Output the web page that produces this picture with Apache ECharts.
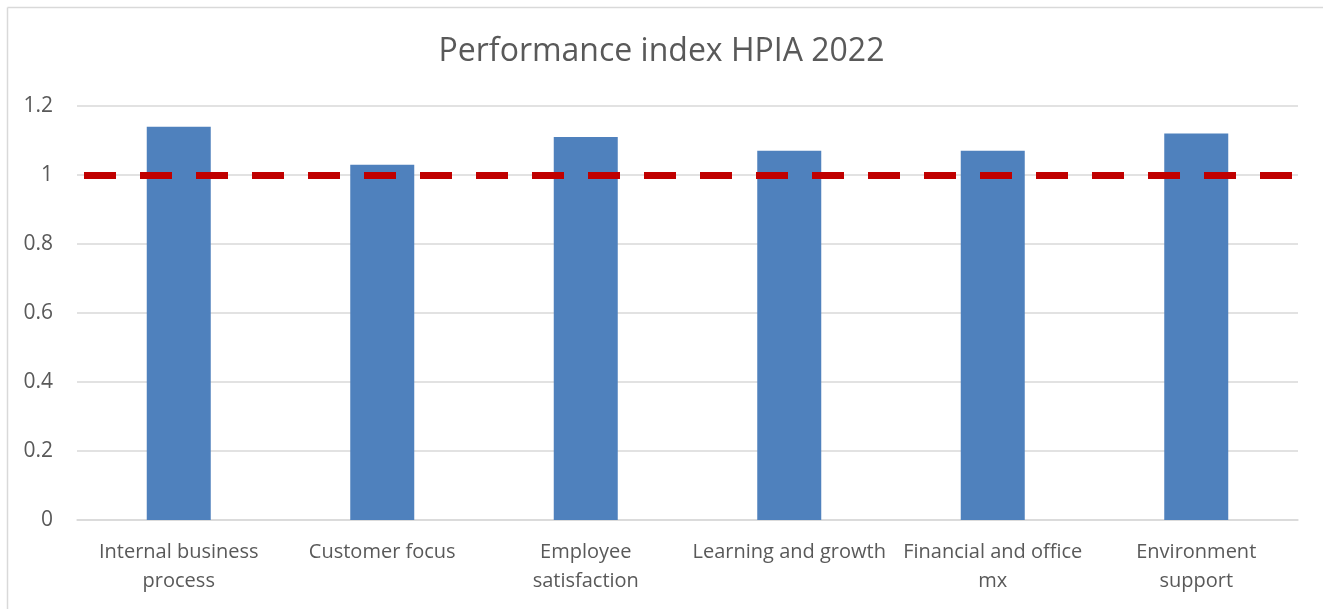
<!DOCTYPE html>
<html>
<head>
<meta charset="utf-8">
<script src="https://cdn.jsdelivr.net/npm/echarts@6/dist/echarts.min.js"></script>
<style>
html,body{margin:0;padding:0;background:#fff;}
#chart{width:1323px;height:609px;}
</style>
</head>
<body>
<div id="chart"></div>
<script>
var categories = ["Internal business process","Customer focus","Employee satisfaction","Learning and growth","Financial and office mx","Environment support"];
var tickLabels = ["Internal business\nprocess","Customer focus","Employee\nsatisfaction","Learning and growth","Financial and office\nmx","Environment\nsupport"];
var values = [1.14, 1.03, 1.11, 1.07, 1.07, 1.12];
var targetValue = 1;
var yTicks = [0, 0.2, 0.4, 0.6, 0.8, 1, 1.2];

var font = "'Open Sans', 'Noto Sans', sans-serif";
var chart = echarts.init(document.getElementById('chart'), null, {renderer:'canvas'});
chart.setOption({
  animation:false,
  backgroundColor:'#ffffff',
  title:{
    text:'Performance index HPIA 2022',
    left:'center', top:31,
    textStyle:{fontFamily:font, fontSize:32, fontWeight:'normal', color:'#595959'}
  },
  grid:{left:77, right:25, top:106, bottom:89, containLabel:false},
  xAxis:{
    type:'category',
    data:categories,
    axisLine:{show:true, lineStyle:{color:'#D9D9D9', width:1.5}},
    axisTick:{show:false},
    axisLabel:{
      interval:0, margin:18, color:'#595959', fontFamily:font, fontSize:20, lineHeight:29,
      formatter:function(v, i){ return tickLabels[i]; }
    }
  },
  yAxis:[{
    type:'value', min:0, max:1.2, interval:0.2,
    axisLine:{show:false}, axisTick:{show:false},
    splitLine:{lineStyle:{color:'#D9D9D9', width:1.5}},
    axisLabel:{color:'#595959', fontFamily:font, fontSize:21, margin:24,
      formatter:function(v){ var r = yTicks.filter(function(t){return Math.abs(t-v)<1e-9;}); return r.length? String(r[0]) : ''; }}
  }],
  series:[{
    type:'bar',
    data:values,
    barWidth:64,
    itemStyle:{color:'#4F81BD'},
    markLine:{
      silent:true, symbol:['none','none'],
      label:{show:false},
      lineStyle:{color:'#C00000', width:7, type:[32,24], dashOffset:49, cap:'butt'},
      data:[{yAxis:targetValue}]
    }
  }],
  graphic:[
    {type:'line', shape:{x1:7.5,y1:7.5,x2:7.5,y2:609}, style:{stroke:'#D9D9D9', lineWidth:1.5}},
    {type:'line', shape:{x1:7.5,y1:7.5,x2:1323,y2:7.5}, style:{stroke:'#D9D9D9', lineWidth:1.5}}
  ]
});
</script>
</body>
</html>
